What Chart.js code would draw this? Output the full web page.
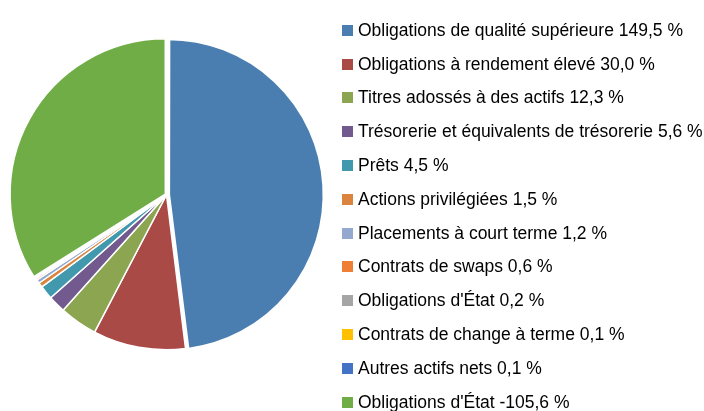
<!DOCTYPE html>
<html>
<head>
<meta charset="utf-8">
<script src="https://cdn.jsdelivr.net/npm/chart.js@4/dist/chart.umd.min.js"></script>
<style>
  html, body { margin: 0; padding: 0; background: #fff; }
  #wrap { position: relative; width: 704px; height: 411px; overflow: hidden; }
  #legend { position: absolute; left: 342px; top: 13.5px; margin: 0; padding: 0; list-style: none;
    font-family: "Liberation Sans", Arial, sans-serif; font-size: 17.5px; color: #000; }
  #legend li { height: 33.8px; display: flex; align-items: center; white-space: nowrap; }
  #legend .box { width: 11px; height: 11px; margin-right: 5px; flex: none; }
</style>
</head>
<body>
<div id="wrap">
  <canvas id="pie" width="704" height="411"></canvas>
  <ul id="legend"></ul>
</div>
<script>
// portfolio breakdown, values as printed in the legend (%)
const labels = [
  'Obligations de qualité supérieure',
  'Obligations à rendement élevé',
  'Titres adossés à des actifs',
  'Trésorerie et équivalents de trésorerie',
  'Prêts',
  'Actions privilégiées',
  'Placements à court terme',
  'Contrats de swaps',
  "Obligations d'État",
  'Contrats de change à terme',
  'Autres actifs nets',
  "Obligations d'État"
];
const values = [149.5, 30.0, 12.3, 5.6, 4.5, 1.5, 1.2, 0.6, 0.2, 0.1, 0.1, -105.6];
const colors = ['#4a7eb0', '#a94a47', '#8ba550', '#725a8f', '#4299ae', '#db843d',
  '#93a9cf', '#ef7f35', '#a5a5a5', '#ffc000', '#4472c4', '#70ad47'];
// chart.js shifts arcs by offset / 4 (and grows wide ones a bit)
const offsets = [6.5, 0, 0, 0, 0, 0, 0, 0, 0, 0, 0, 5.5];
// wider white edge on the blue slice keeps it from growing past the rest
const borderWidths = [4, 1.5, 1.5, 1.5, 1.5, 1.5, 1.5, 1.5, 1.5, 1.5, 1.5, 1.5];

// slices use the size of each holding, the short position included
const sliceValues = values.map(v => Math.abs(v));

const fmt = v => v.toFixed(1).replace('.', ',') + ' %';

const legend = document.getElementById('legend');
labels.forEach((label, i) => {
  const li = document.createElement('li');
  const box = document.createElement('span');
  box.className = 'box';
  box.style.background = colors[i];
  li.appendChild(box);
  li.appendChild(document.createTextNode(label + ' ' + fmt(values[i])));
  legend.appendChild(li);
});

new Chart(document.getElementById('pie'), {
  type: 'pie',
  data: {
    labels: labels,
    datasets: [{
      data: sliceValues,
      backgroundColor: colors,
      borderColor: '#ffffff',
      borderWidth: borderWidths,
      hoverBorderWidth: 0,
      hoverOffset: 0,
      offset: offsets
    }]
  },
  options: {
    responsive: false,
    animation: false,
    layout: { padding: { left: 6.25, right: 377.25, top: 34.5, bottom: 56 } },
    plugins: {
      legend: { display: false },
      tooltip: { enabled: false }
    }
  }
});
</script>
</body>
</html>
